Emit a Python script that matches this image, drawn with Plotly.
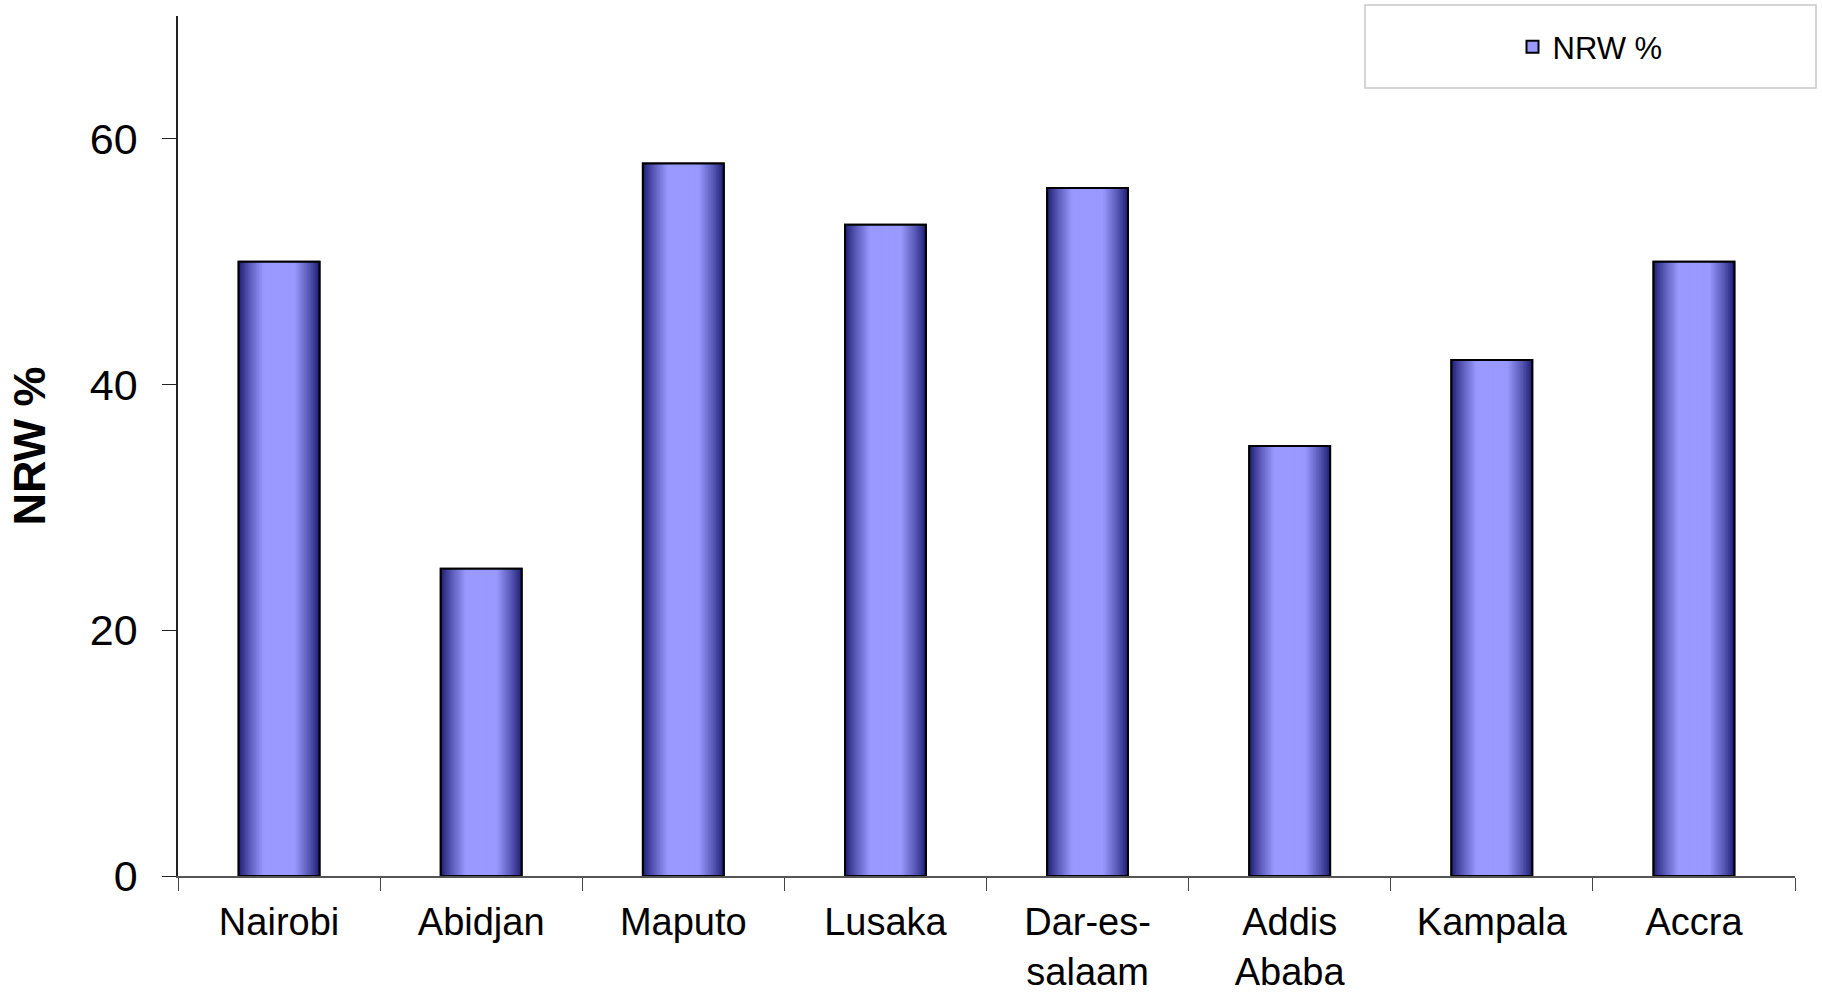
import plotly.graph_objects as go

# ---- data ----
cities = ["Nairobi", "Abidjan", "Maputo", "Lusaka", "Dar-es-salaam",
          "Addis Ababa", "Kampala", "Accra"]
tick_labels = ["Nairobi", "Abidjan", "Maputo", "Lusaka", "Dar-es-<br>salaam",
               "Addis<br>Ababa", "Kampala", "Accra"]
nrw_pct = [50, 25, 58, 53, 56, 35, 42, 50]
y_ticks = [0, 20, 40, 60]
series_name = "NRW %"

FONT = "Arial, 'Liberation Sans', sans-serif"
BAR_W = 0.40
DARK = (26, 26, 112)
LIGHT = (153, 153, 255)
N_LAYERS = 26


def ramp(t):
    s = min(1.0, t / 0.62) ** 0.85
    c = [round(DARK[i] + (LIGHT[i] - DARK[i]) * s) for i in range(3)]
    return f"rgb({c[0]},{c[1]},{c[2]})"


fig = go.Figure()

# legend-carrying base bar (light fill, black outline)
fig.add_trace(go.Bar(
    x=cities, y=nrw_pct, width=BAR_W, name=series_name,
    marker=dict(color="#9999ff", line=dict(color="black", width=2)),
    showlegend=True, hoverinfo="skip",
))

# horizontal gradient built from nested overlaid bars
for k in range(N_LAYERS):
    h = 1 - k / N_LAYERS
    t = 1 - h + 0.5 / N_LAYERS
    fig.add_trace(go.Bar(
        x=cities, y=nrw_pct, width=BAR_W * h,
        marker=dict(color=ramp(t), line=dict(width=0)),
        showlegend=False, hoverinfo="skip",
    ))

# outline on top
fig.add_trace(go.Bar(
    x=cities, y=nrw_pct, width=BAR_W,
    marker=dict(color="rgba(0,0,0,0)", line=dict(color="black", width=2)),
    showlegend=False, hovertemplate="%{x}: %{y}<extra></extra>",
))

plot_l, plot_r, plot_t, plot_b = 178, 1795, 16, 876
pw, ph = plot_r - plot_l, plot_b - plot_t

def px_x(v):
    return (v - plot_l) / pw

def px_y(v):
    return (plot_b - v) / ph

fig.update_layout(
    width=1822, height=1002,
    margin=dict(l=plot_l, r=1822 - plot_r, t=plot_t, b=1002 - plot_b, pad=0,
                autoexpand=False),
    barmode="overlay",
    plot_bgcolor="white", paper_bgcolor="white",
    font=dict(family=FONT, color="black"),
    showlegend=True,
    legend=dict(
        x=px_x(1590), y=px_y(47), xanchor="center", yanchor="middle",
        bgcolor="rgba(0,0,0,0)", borderwidth=0,
        font=dict(family=FONT, size=31, color="black"),
        itemsizing="constant",
    ),
    shapes=[dict(
        type="rect", xref="paper", yref="paper",
        x0=px_x(1365), x1=px_x(1816), y0=px_y(88), y1=px_y(5),
        line=dict(color="#c8c8c8", width=1.5), fillcolor="rgba(0,0,0,0)",
        layer="below",
    )],
    xaxis=dict(
        type="category", range=[-0.5, len(cities) - 0.5],
        tickvals=cities, ticktext=tick_labels, automargin=False,
        tickson="boundaries", ticks="outside", ticklen=13, tickwidth=1,
        tickcolor="#444", showline=True, linecolor="#555", linewidth=1.5,
        showgrid=False, zeroline=False,
        tickfont=dict(family=FONT, size=38, color="black"),
        ticklabelstandoff=12,
    ),
    yaxis=dict(
        range=[0, 70], tickvals=y_ticks, ticktext=[str(v) for v in y_ticks],
        automargin=False,
        ticks="outside", ticklen=14, tickwidth=1, tickcolor="#222",
        showline=True, linecolor="#222", linewidth=1.5,
        showgrid=False, zeroline=False,
        tickfont=dict(family=FONT, size=43, color="black"),
        ticklabelstandoff=16,
        title=dict(text="<b>NRW %</b>", standoff=30,
                   font=dict(family=FONT, size=45, color="black")),
    ),
)

fig.write_html("out.html")
